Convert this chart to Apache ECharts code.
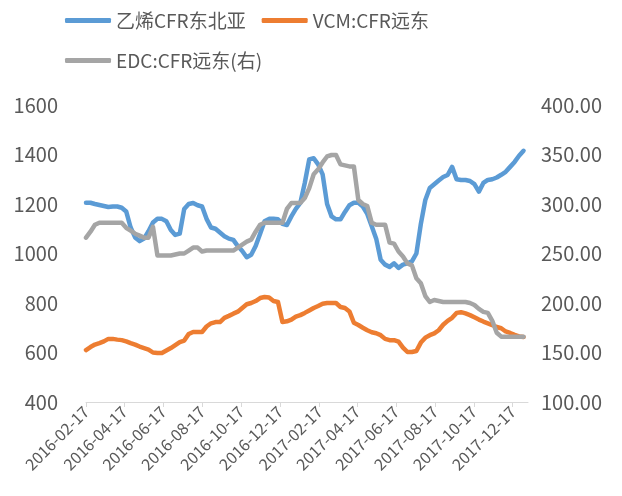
<!DOCTYPE html>
<html>
<head>
<meta charset="utf-8">
<script src="https://cdn.jsdelivr.net/npm/echarts@6/dist/echarts.min.js"></script>
<style>
  html, body { margin: 0; padding: 0; background: #fff; }
  #main { width: 622px; height: 496px; }
</style>
</head>
<body>
<div id="main"></div>
<script>
// 周度数据，起始 2016-02-17
var startDate = [2016, 1, 17];
var tickLabels = ['2016-02-17', '2016-04-17', '2016-06-17', '2016-08-17', '2016-10-17', '2016-12-17',
                  '2017-02-17', '2017-04-17', '2017-06-17', '2017-08-17', '2017-10-17', '2017-12-17'];

var ethylene = [1205, 1205, 1200, 1196, 1192, 1188, 1190, 1190, 1185, 1170,
                1105, 1065, 1050, 1060, 1090, 1125, 1140, 1140, 1130, 1095,
                1075, 1080, 1180, 1200, 1204, 1195, 1190, 1140, 1105, 1100,
                1085, 1070, 1060, 1055, 1030, 1010, 985, 995, 1030, 1080,
                1130, 1140, 1140, 1138, 1120, 1115, 1150, 1180, 1204, 1285,
                1380, 1385, 1360, 1320, 1200, 1150, 1138, 1138, 1168, 1195,
                1205, 1205, 1190, 1160, 1110, 1060, 975, 955, 946, 960,
                942, 955, 960, 968, 1000, 1120, 1216, 1265, 1280, 1295,
                1309, 1317, 1350, 1300, 1297, 1297, 1293, 1280, 1250, 1285,
                1297, 1300, 1307, 1318, 1330, 1350, 1370, 1395, 1415];

var vcm = [610, 622, 632, 638, 645, 655, 655, 652, 650, 645,
           638, 632, 624, 618, 612, 600, 598, 598, 608, 618,
           630, 642, 648, 675, 683, 683, 683, 705, 718, 723,
           723, 740, 748, 757, 765, 780, 795, 800, 808, 820,
           824, 822, 808, 804, 723, 726, 733, 745, 751, 760,
           770, 780, 788, 797, 800, 800, 800, 784, 780, 766,
           720, 711, 700, 690, 682, 678, 670, 655, 650, 650,
           644, 620, 602, 602, 606, 640, 660, 670, 677, 690,
           712, 728, 740, 760, 763, 758, 751, 742, 733, 725,
           718, 711, 703, 698, 685, 679, 671, 665, 663];

var edc = [266, 272, 279, 281, 281, 281, 281, 281, 281, 276,
           273, 270, 268, 266, 266, 277, 248, 248, 248, 248,
           249, 250, 250, 253, 256, 256, 252, 253, 253, 253,
           253, 253, 253, 253, 256, 259, 262, 264, 272, 279,
           281, 281, 281, 281, 281, 295, 301, 301, 301, 306,
           316, 330, 335, 342, 348, 349.5, 349.5, 340, 339, 338,
           338, 304, 300, 298, 281, 279, 279, 279, 261, 260,
           252, 247, 240, 238, 225, 220, 207, 201, 203, 202,
           201, 201, 201, 201, 201, 201, 200, 198, 194, 191,
           190, 182, 170, 166, 166, 166, 166, 166, 166];

var names = ['乙烯CFR东北亚', 'VCM:CFR远东', 'EDC:CFR远东(右)'];
var colors = ['#5B9BD5', '#ED7D31', '#A5A5A5'];

function dayAt(i) {
    return new Date(startDate[0], startDate[1], startDate[2] + i * 7).getTime();
}
function parseDay(s) {
    var p = s.split('-');
    return new Date(+p[0], +p[1] - 1, +p[2]).getTime();
}
function pair(arr) {
    return arr.map(function (v, i) { return [dayAt(i), v]; });
}
function pad(n) { return n < 10 ? '0' + n : '' + n; }

var tickValues = tickLabels.map(parseDay);
var font = '"Noto Sans CJK SC", "Noto Sans", sans-serif';

var myChart = echarts.init(document.getElementById('main'));
var option = {
    animation: false,
    backgroundColor: '#fff',
    textStyle: { fontFamily: font },
    legend: [{
        data: [names[0], names[1]],
        left: 60, top: 6,
        itemWidth: 46, itemHeight: 5, itemGap: 16,
        icon: 'roundRect',
        textStyle: { color: '#595959', fontSize: 19, fontFamily: font }
    }, {
        data: [names[2]],
        left: 60, top: 46,
        itemWidth: 46, itemHeight: 5,
        icon: 'roundRect',
        textStyle: { color: '#595959', fontSize: 19, fontFamily: font }
    }],
    grid: { left: 86, right: 94, top: 105, bottom: 94, containLabel: false },
    xAxis: {
        type: 'value',
        min: parseDay('2016-02-17'),
        max: parseDay('2018-01-10'),
        splitLine: { show: false },
        axisLine: { lineStyle: { color: '#D9D9D9', width: 1 } },
        axisTick: { show: true, customValues: tickValues, length: 5, lineStyle: { color: '#D9D9D9' } },
        axisLabel: {
            customValues: tickValues,
            rotate: 45,
            color: '#595959',
            fontSize: 16,
            fontFamily: font,
            margin: 7,
            formatter: function (v) {
                var d = new Date(v);
                return d.getFullYear() + '-' + pad(d.getMonth() + 1) + '-' + pad(d.getDate());
            }
        }
    },
    yAxis: [{
        type: 'value',
        min: 400, max: 1600, interval: 200,
        splitLine: { show: false },
        axisLine: { show: false },
        axisTick: { show: false },
        axisLabel: {
            color: '#595959', fontSize: 20, fontFamily: font, margin: 28,
            formatter: function (v) { return String(v); }
        }
    }, {
        type: 'value',
        min: 100, max: 400, interval: 50,
        splitLine: { show: false },
        axisLine: { show: false },
        axisTick: { show: false },
        axisLabel: {
            color: '#595959', fontSize: 20, fontFamily: font, margin: 13,
            formatter: function (v) { return v.toFixed(2); }
        }
    }],
    series: [{
        name: names[0], type: 'line', yAxisIndex: 0, showSymbol: false, symbol: 'none',
        data: pair(ethylene),
        lineStyle: { color: colors[0], width: 4.5, cap: 'round', join: 'round' },
        itemStyle: { color: colors[0] }
    }, {
        name: names[1], type: 'line', yAxisIndex: 0, showSymbol: false, symbol: 'none',
        data: pair(vcm),
        lineStyle: { color: colors[1], width: 4.5, cap: 'round', join: 'round' },
        itemStyle: { color: colors[1] }
    }, {
        name: names[2], type: 'line', yAxisIndex: 1, showSymbol: false, symbol: 'none',
        data: pair(edc),
        lineStyle: { color: colors[2], width: 4.5, cap: 'round', join: 'round' },
        itemStyle: { color: colors[2] }
    }]
};
myChart.setOption(option);
window.addEventListener('resize', function () {
    myChart.resize();
});
</script>
</body>
</html>
